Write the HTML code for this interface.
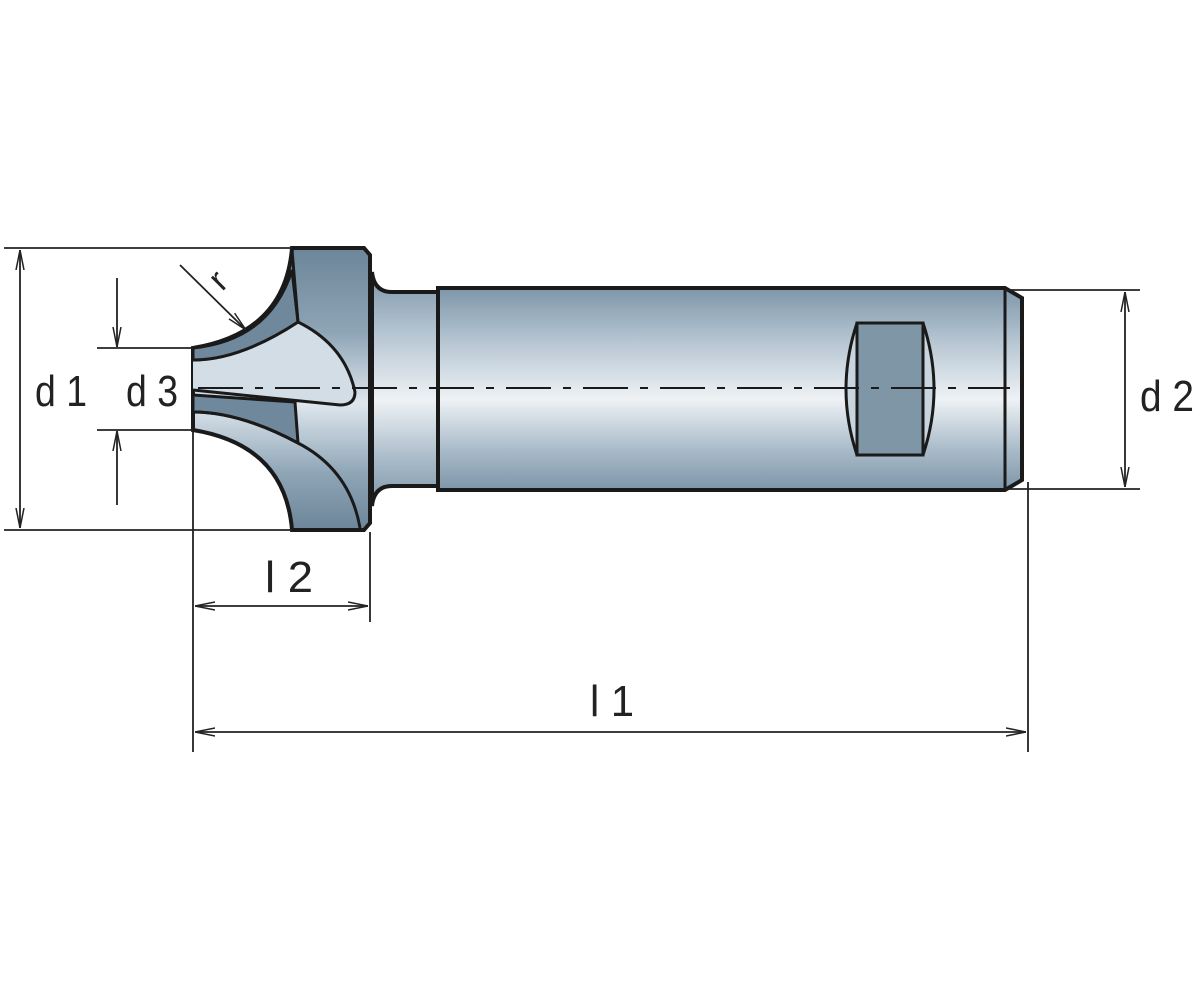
<!DOCTYPE html>
<html><head><meta charset="utf-8"><style>
html,body{margin:0;padding:0;background:#fff;}
svg{display:block}
text{font-family:"Liberation Sans","DejaVu Sans",sans-serif;font-size:44px;fill:#222;}
</style></head><body>
<svg width="1200" height="1000" viewBox="0 0 1200 1000" xmlns="http://www.w3.org/2000/svg">
<defs>
<linearGradient id="g" x1="0" y1="0" x2="0" y2="1">
<stop offset="0" stop-color="#7d96a9"/>
<stop offset="0.25" stop-color="#b3c3d0"/>
<stop offset="0.55" stop-color="#eef2f5"/>
<stop offset="0.8" stop-color="#a9bbc9"/>
<stop offset="1" stop-color="#7d96a9"/>
</linearGradient>
<linearGradient id="gh" gradientUnits="userSpaceOnUse" x1="0" y1="248" x2="0" y2="530">
<stop offset="0" stop-color="#6c8598"/>
<stop offset="0.3" stop-color="#8ea5b6"/>
<stop offset="0.55" stop-color="#dfe7ee"/>
<stop offset="0.8" stop-color="#8ea5b6"/>
<stop offset="1" stop-color="#6c8598"/>
</linearGradient>
<marker id="a" viewBox="0 0 20 10" refX="20" refY="5" markerWidth="20" markerHeight="10" markerUnits="userSpaceOnUse" orient="auto-start-reverse">
<path d="M0,1 L20,5 L0,9" fill="none" stroke="#222" stroke-width="1.5"/>
</marker>
</defs>

<path d="M438,288 H1005 L1022,298 V480 L1005,490 H438 Z" fill="url(#g)" stroke="#1a1a1a" stroke-width="4"/>
<line x1="1005" y1="288" x2="1005" y2="490" stroke="#1a1a1a" stroke-width="3"/>
<path d="M857,323 Q835,389 857,455 M923,323 Q945,389 923,455" fill="#c8d4de" stroke="#1a1a1a" stroke-width="3"/>
<rect x="857" y="323" width="66" height="132" fill="#7f96a7" stroke="#1a1a1a" stroke-width="3"/>
<path d="M372,272 Q374,292 392,292 H438 V486 H392 Q374,486 372,506 Z" fill="url(#g)" stroke="#1a1a1a" stroke-width="4"/>
<path d="M292,248 H364 L370,255 V523 L364,530 H292 Q285,445 193,430 V348 Q285,333 292,248 Z" fill="url(#gh)" stroke="#1a1a1a" stroke-width="4"/>
<path d="M193,360 Q240,360 298,322 Q345,345 355,392 Q355,405 340,405 L193,390" fill="#d3dde6" stroke="#1a1a1a" stroke-width="3"/>
<path d="M193,348 Q270,340 292,270 L298,322 Q240,360 193,360Z" fill="#6f889b" stroke="#1a1a1a" stroke-width="3"/>
<line x1="292" y1="250" x2="298" y2="322" stroke="#1a1a1a" stroke-width="3"/>
<path d="M193,395 L295,402 L298,443 Q240,412 193,412 Z" fill="#6f889b" stroke="#1a1a1a" stroke-width="3"/>
<path d="M193,412 Q240,412 298,443 Q350,470 360,528" fill="none" stroke="#1a1a1a" stroke-width="3"/>
<path d="M198,388 H1010" stroke="#1a1a1a" stroke-width="2" stroke-dasharray="45,12,8,12" fill="none"/>

<g stroke="#222" stroke-width="1.8" fill="none">
<line x1="4" y1="248" x2="292" y2="248"/>
<line x1="4" y1="530" x2="292" y2="530"/>
<line x1="20" y1="250" x2="20" y2="528" marker-start="url(#a)" marker-end="url(#a)"/>
<line x1="97" y1="348" x2="193" y2="348"/>
<line x1="97" y1="430" x2="193" y2="430"/>
<line x1="117" y1="278" x2="117" y2="347" marker-end="url(#a)"/>
<line x1="117" y1="505" x2="117" y2="431" marker-end="url(#a)"/>
<line x1="1005" y1="290" x2="1140" y2="290"/>
<line x1="1005" y1="489" x2="1140" y2="489"/>
<line x1="1125" y1="292" x2="1125" y2="487" marker-start="url(#a)" marker-end="url(#a)"/>
<line x1="193" y1="432" x2="193" y2="752"/>
<line x1="370" y1="532" x2="370" y2="622"/>
<line x1="1028" y1="482" x2="1028" y2="752"/>
<line x1="195" y1="606" x2="368" y2="606" marker-start="url(#a)" marker-end="url(#a)"/>
<line x1="195" y1="732" x2="1026" y2="732" marker-start="url(#a)" marker-end="url(#a)"/>
<line x1="180" y1="265" x2="246" y2="330" marker-end="url(#a)"/>
</g>

<text x="35" y="406" textLength="52" lengthAdjust="spacingAndGlyphs">d 1</text>
<text x="126" y="406" textLength="52" lengthAdjust="spacingAndGlyphs">d 3</text>
<text x="1140" y="411" textLength="54" lengthAdjust="spacingAndGlyphs">d 2</text>
<text x="265" y="592" textLength="48" lengthAdjust="spacingAndGlyphs">l 2</text>
<text x="590" y="716" textLength="44" lengthAdjust="spacingAndGlyphs">l 1</text>
<text x="0" y="0" transform="translate(222,292) rotate(-45)" style="font-size:34px">r</text>
</svg>
</body></html>
